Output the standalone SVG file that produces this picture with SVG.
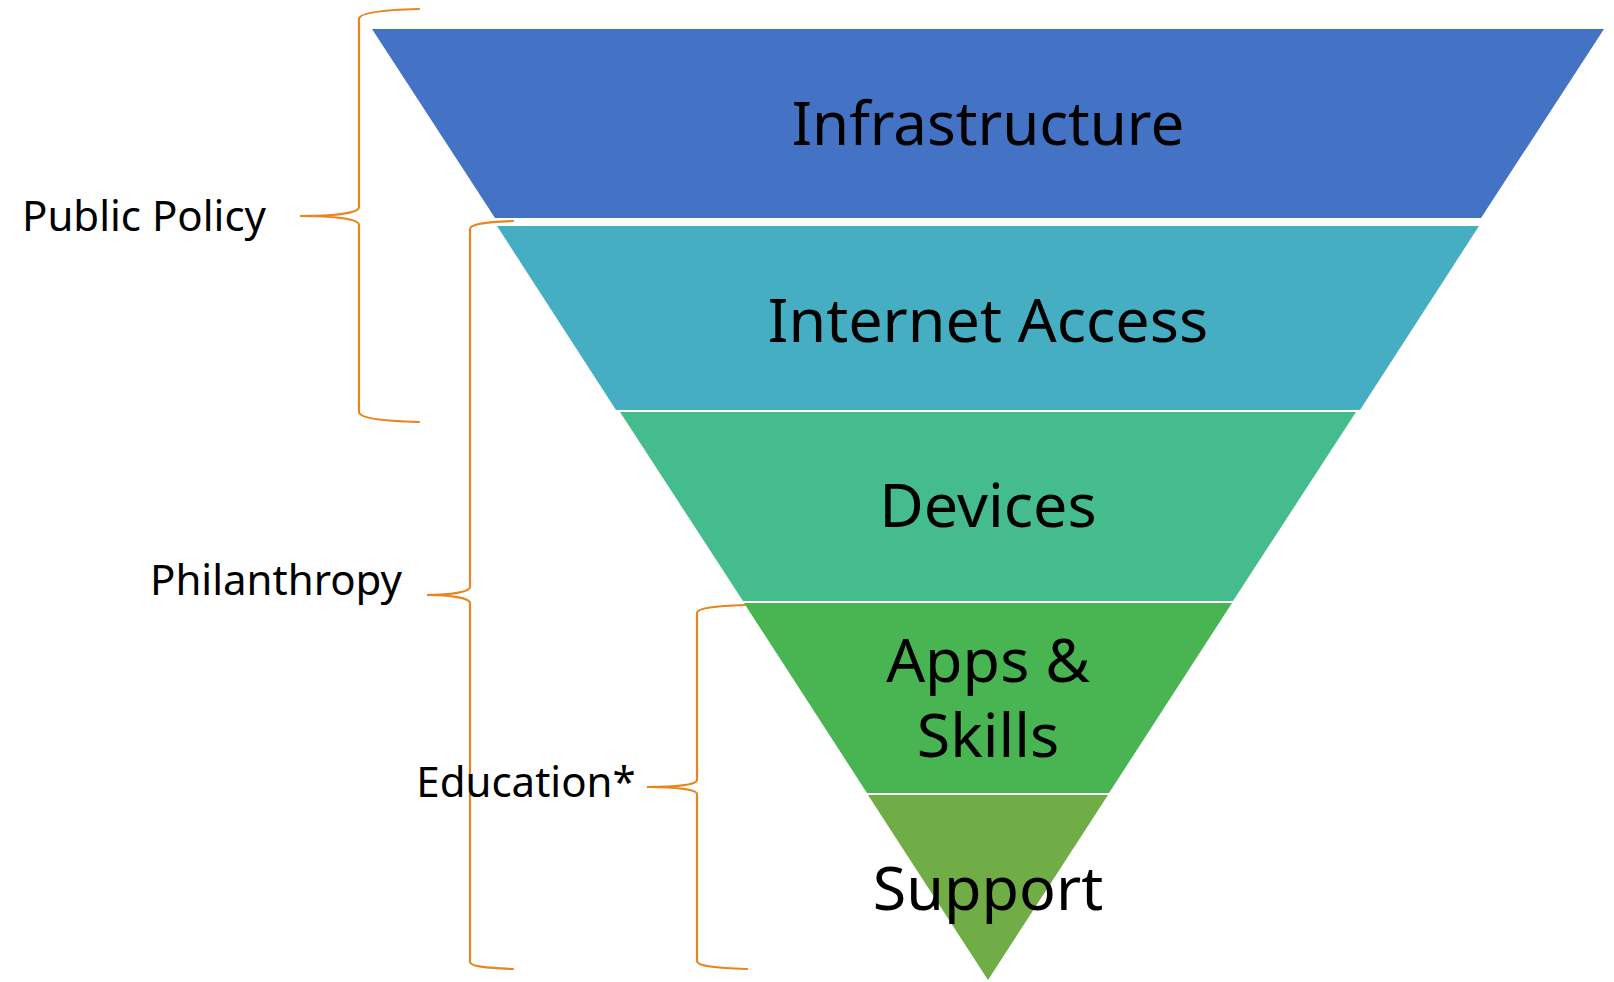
<svg xmlns="http://www.w3.org/2000/svg" width="1614" height="982" viewBox="0 0 1614 982">
<style>
.big{font-family:"Noto Sans","Open Sans","DejaVu Sans",sans-serif;font-size:61px;fill:#000;text-anchor:middle}
.lbl{font-family:"Noto Sans","Open Sans","DejaVu Sans",sans-serif;font-size:42px;fill:#000;text-anchor:middle}
.brace{fill:none;stroke:#E8851F;stroke-width:2.2;stroke-linecap:round}
</style>
<rect x="0" y="0" width="1614" height="982" fill="#fff"/>
<g id="infrastructure">
<polygon points="372,29 1604,29 1481,218 495,218" fill="#4472C4"/>
<text class="big" x="988" y="145" style="font-size:60px">Infrastructure</text>
</g>
<g id="internet-access">
<polygon points="497,226 1479,226 1360,410 616,410" fill="#45AEC2"/>
<text class="big" x="988" y="342">Internet Access</text>
</g>
<g id="devices">
<polygon points="620,412 1356,412 1233,601 743,601" fill="#45BC8D"/>
<text class="big" x="988" y="527">Devices</text>
</g>
<g id="apps-skills">
<polygon points="744,603 1232,603 1109,793 867,793" fill="#48B452"/>
<text class="big" x="988" y="682">Apps &amp;</text>
<text class="big" x="988" y="757">Skills</text>
</g>
<g id="support">
<polygon points="868,795 1108,795 988,980" fill="#70AD47"/>
<text class="big" x="988" y="910">Support</text>
</g>
<g id="connectors">
<path class="brace" d="M419,9 C380,10 359,13 359,19 L359,207 C359,213 335,216 300,216 C335,216 359,219 359,225 L359,412 C359,418 380,421 419,422"/>
<path class="brace" d="M513,221 C485,222 470,224 470,229 L470,587 C470,592 450,595 427,595 C450,595 470,598 470,603 L470,962 C470,966 485,968 513,969"/>
<path class="brace" d="M745,605 C715,606 697,608 697,613 L697,780 C697,785 675,787 647,787 C675,787 697,789 697,794 L697,961 C697,966 715,968 747,969"/>
</g>
<g id="public-policy"><text class="lbl" x="144" y="231">Public Policy</text></g>
<g id="philanthropy"><text class="lbl" x="276" y="595">Philanthropy</text></g>
<g id="education"><text class="lbl" x="526" y="797">Education*</text></g>
</svg>
